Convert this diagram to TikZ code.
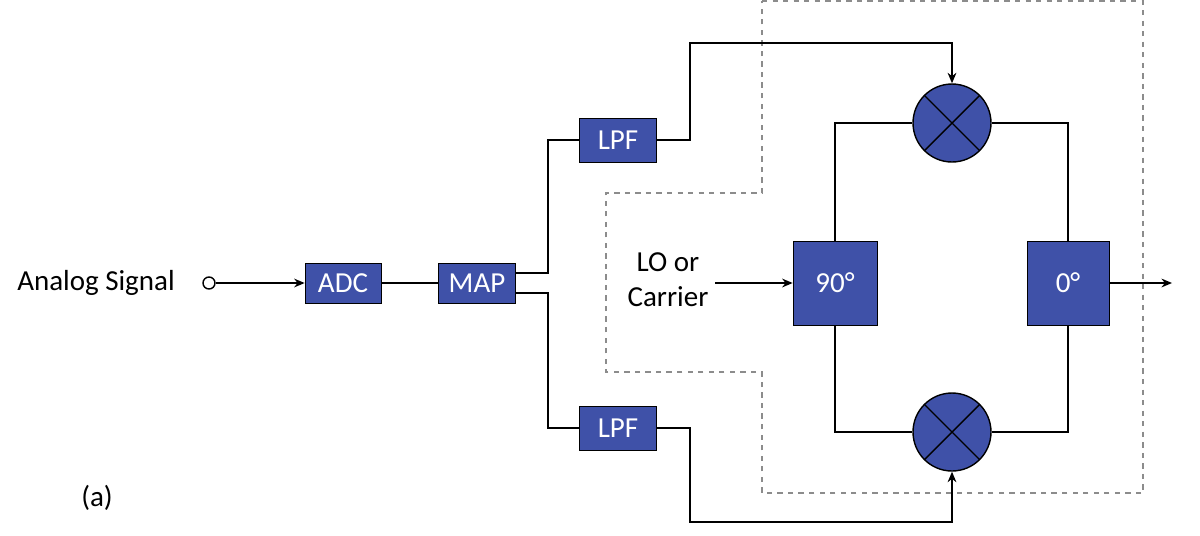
\documentclass[tikz,border=0pt]{standalone}
\usepackage{fontspec}
\setmainfont{Carlito}
\definecolor{BoxBlue}{RGB}{63,81,168}
\definecolor{DashGray}{RGB}{140,140,140}
\usetikzlibrary{arrows.meta,positioning,calc}

\begin{document}
\begin{tikzpicture}[x=0.02cm,y=-0.02cm,
    blk/.style={draw=black,fill=BoxBlue,text=white,inner sep=0pt,
                font=\fontsize{16.5}{19}\selectfont},
    mixer/.style={circle,draw=black,thick,fill=BoxBlue,minimum size=1.56cm,inner sep=0pt,
                  path picture={\draw[black,thick]
                    (path picture bounding box.south west)--(path picture bounding box.north east)
                    (path picture bounding box.north west)--(path picture bounding box.south east);}},
    lbl/.style={font=\fontsize{16.5}{20}\selectfont,align=center},
    wire/.style={draw=black,thick},
    arr/.style={wire,-{Stealth[length=6pt,width=5pt]}}]
    \useasboundingbox (0,0) rectangle (1200,535);
    % dashed region
    \draw[DashGray,dashed,thick] (762,1)--(1143,1)--(1143,493)--(762,493)--(762,372)
        --(606,372)--(606,193)--(762,193)--cycle;
    % blocks
    \node[lbl] (sig) at (96,283) {Analog Signal};
    \node[circle,draw=black,thick,fill=white,minimum size=0.24cm,inner sep=0pt] (src) at (209,283) {};
    \node[blk,minimum width=1.52cm,minimum height=0.8cm] (adc) at (343,283) {ADC};
    \node[blk,minimum width=1.54cm,minimum height=0.8cm] (map) at (477,283) {MAP};
    \node[blk,minimum width=1.54cm,minimum height=0.88cm] (lpfa) at (618,140) {LPF};
    \node[blk,minimum width=1.54cm,minimum height=0.88cm] (lpfb) at (618,428) {LPF};
    \node[mixer] (mixa) at (952,123) {};
    \node[mixer] (mixb) at (952,432) {};
    \node[blk,minimum width=1.68cm,minimum height=1.68cm] (ninety) at (835,283) {90°};
    \node[blk,minimum width=1.64cm,minimum height=1.68cm] (zero) at (1068,283) {0°};
    \node[lbl] (lo) at (668,280) {LO or\\Carrier};
    \coordinate (out) at (1172,283);
    % connections
    \draw[arr] (src)--(adc);
    \draw[wire] (adc)--(map);
    \draw[wire] ([yshift=0.2cm]map.east)-|(548,140)--(lpfa.west);
    \draw[wire] ([yshift=-0.2cm]map.east)-|(548,428)--(lpfb.west);
    \draw[arr] (lpfa.east)-|(690,43)-|(mixa.north);
    \draw[arr] (lpfb.east)-|(690,522)-|(mixb.south);
    \draw[wire] (ninety.north)|-(mixa.west);
    \draw[wire] (mixa.east)-|(zero.north);
    \draw[wire] (ninety.south)|-(mixb.west);
    \draw[wire] (mixb.east)-|(zero.south);
    \draw[arr] (715,283)--(ninety.west);
    \draw[arr] (zero.east)--(out);
    \node[lbl] (tag) at (97,498) {(a)};
\end{tikzpicture}
\end{document}
